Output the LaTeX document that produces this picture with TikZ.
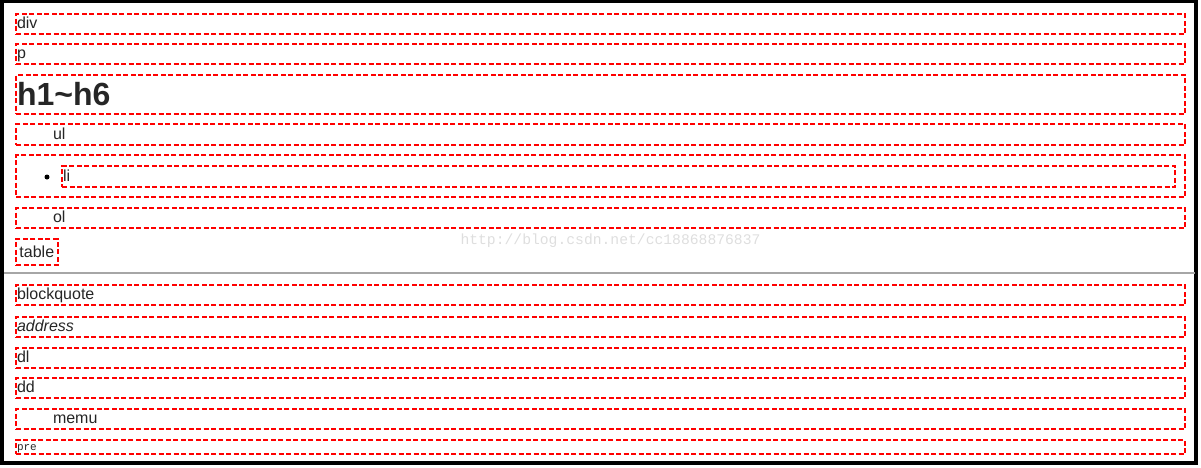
\documentclass[tikz,border=0pt]{standalone}
\usepackage{fontspec}
\setmainfont{Liberation Sans}
\setmonofont{Liberation Mono}
\usepackage{tikz}
\usetikzlibrary{positioning}

\tikzset{
  tagbox/.style={draw=red, line width=2pt, dash pattern=on 5pt off 2.5pt,
    anchor=north west, inner xsep=1pt, inner ysep=0pt, text=black!85,
    text height=12pt, text depth=3pt, font=\fontsize{16}{18}\selectfont},
  rowbox/.style={tagbox, minimum width=1169pt, text width=1167pt, align=left, minimum height=#1},
  rowbox/.default=20pt
}

\begin{document}
\begin{tikzpicture}[x=1pt, y=-1pt]
            \useasboundingbox (0,0) rectangle (1201,467);
            % 外框
            \draw[line width=3.5pt] (2,1.5) rectangle (1196,463);

            % 块级元素
            \node[rowbox] (divbox) at (15,13) {div};
            \node[rowbox] (pbox) at (15,43) {p};
            \node[rowbox=39pt, text height=24pt, text depth=2pt,
                  font=\fontsize{32}{36}\selectfont\bfseries] (hbox) at (15,74) {h1\char`\~h6};
            \node[rowbox=21pt] (ulbox) at (15,123) {\hspace*{36pt}ul};

            % 列表项
            \node[rowbox=42pt] (libox) at (15,154) {};
            \node[tagbox, minimum width=1113pt, minimum height=21pt, text width=1111pt, align=left] (liinner) at (61,165) {li};
            \node[circle, fill, inner sep=0pt, minimum size=5pt] (libullet) at (47,177) {};

            \node[rowbox] (olbox) at (15,207) {\hspace*{36pt}ol};
            \node[tagbox, minimum height=26pt, inner xsep=3.5pt, text depth=1pt] (tablebox) at (15,238) {table};

            % 水印
            \node[text=black!13, anchor=west, font=\ttfamily\fontsize{14.7}{16}\selectfont] (mark) at (457,241) {http://blog.csdn.net/cc18868876837};

            % 分隔线
            \coordinate (hrleft) at (4,273);
            \coordinate (hrright) at (1195,273);
            \draw[black!35, line width=1.5pt] (hrleft) -- (hrright);

            \node[rowbox] (quotebox) at (15,284) {blockquote};
            \node[rowbox, font=\fontsize{16}{18}\selectfont\itshape] (addrbox) at (15,316) {address};
            \node[rowbox] (dlbox) at (15,347) {dl};
            \node[rowbox] (ddbox) at (15,377) {dd};
            \node[rowbox] (menubox) at (15,408) {\hspace*{36pt}memu};
            \node[rowbox=14pt, text height=8pt, text depth=2pt,
                  font=\ttfamily\fontsize{11}{12}\selectfont] (prebox) at (15,439) {pre};
        \end{tikzpicture}
\end{document}
